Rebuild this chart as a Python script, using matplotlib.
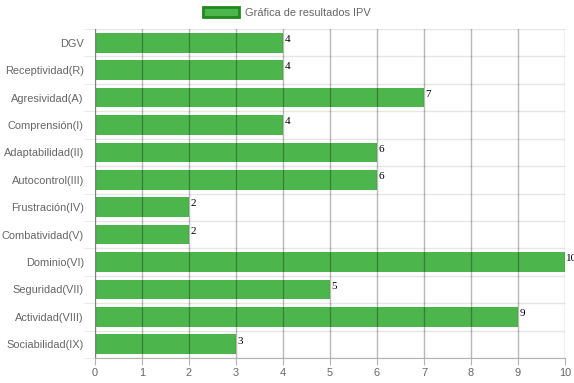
import matplotlib
matplotlib.use("Agg")
import matplotlib.pyplot as plt
import numpy as np
from matplotlib.patches import Patch

categories = ["DGV", "Receptividad(R)", "Agresividad(A)", "Comprensión(I)",
              "Adaptabilidad(II)", "Autocontrol(III)", "Frustración(IV)",
              "Combatividad(V)", "Dominio(VI)", "Seguridad(VII)",
              "Actividad(VIII)", "Sociabilidad(IX)"]
values = [4, 4, 7, 4, 6, 6, 2, 2, 10, 5, 9, 3]
xticks = list(range(0, 11))
legend_label = "Gráfica de resultados IPV"

plt.rcParams["font.family"] = ["Liberation Sans", "DejaVu Sans"]

bar_color = "#4cb54c"
edge_color = "#1e8a1e"
text_gray = "#666666"
fs = 7.9

fig = plt.figure(figsize=(5.74, 3.83), dpi=100)
ax = fig.add_axes([95/574, 1-358/383, 470/574, 329/383])

y = np.arange(len(categories))
ax.barh(y, values, height=0.72, color=bar_color, zorder=2)
ax.set_ylim(len(categories)-0.5, -0.5)
ax.set_xlim(0, 10)

# vertical grid (drawn over the bars, semi-transparent)
ax.set_xticks(xticks)
ax.set_xticklabels([str(t) for t in xticks], color=text_gray, fontsize=fs)
for t in xticks:
    ax.axvline(t, color="black", alpha=0.28, lw=1, zorder=3)
# horizontal grid between bands
bounds = np.arange(-0.5, len(categories) + 0.5, 1)
for b in bounds:
    ax.axhline(b, color="#e6e6e6", lw=1, zorder=0)

ax.set_yticks(y)
ax.set_yticklabels(categories, color=text_gray, fontsize=fs)
ax.set_yticks(bounds, minor=True)
ax.tick_params(axis="y", which="major", length=0, pad=8)
ax.tick_params(axis="y", which="minor", length=8, color="#e6e6e6")
ax.tick_params(axis="x", length=5, color="#b3b3b3", pad=2)

for s in ["top", "right"]:
    ax.spines[s].set_visible(False)
ax.spines["left"].set_color("#b3b3b3")
ax.spines["bottom"].set_color("#b3b3b3")

for yi, v in zip(y, values):
    ax.text(v + 0.03, yi - 0.12, str(v), family="Liberation Serif", fontsize=8,
            color="black", va="center", ha="left", zorder=4, clip_on=False)

handle = Patch(facecolor=bar_color, edgecolor=edge_color, linewidth=2)
fig.legend([handle], [legend_label], loc="center", bbox_to_anchor=(0.5, 1-12.5/383),
           frameon=False, fontsize=fs, handlelength=3.3, handleheight=0.95,
           handletextpad=0.5, labelcolor=text_gray)

fig.savefig("out.png", dpi=100)
